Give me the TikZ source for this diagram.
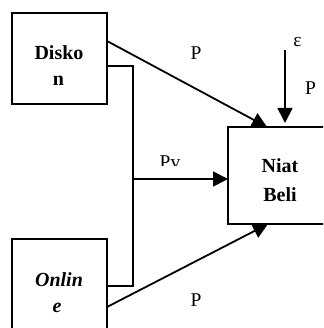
\documentclass[tikz,border=0pt]{standalone}
\usepackage{fontspec}
\setmainfont{Liberation Serif}
\usetikzlibrary{arrows.meta}
\begin{document}
\begin{tikzpicture}[x=1pt,y=-1pt,
  box/.style={draw,line width=1.8pt},
  link/.style={line width=1.8pt,-{Triangle[length=15pt,width=15pt]}},
  plain/.style={line width=1.8pt},
  lbl/.style={font=\fontsize{19.5}{22}\selectfont,inner sep=0pt,anchor=base},
  vname/.style={font=\fontsize{20}{22}\selectfont\bfseries,inner sep=0pt,anchor=base}]
\useasboundingbox (0,0) rectangle (323,328);
\clip (0,0) rectangle (323,328);
% variable boxes
\draw[box] (12,13) rectangle (107,104);
\draw[box] (12,239) rectangle (107,345);
\draw[box] (228,127) rectangle (345,224);
\node[vname] (disko1) at (59,60) {Disko};
\node[vname] (disko2) at (58.5,86) {n};
\node[vname] (online1) at (59,286) {\itshape Onlin};
\node[vname] (online2) at (57,312) {\itshape e};
\node[vname] (niat1) at (280,173) {Niat};
\node[vname] (niat2) at (280,201) {Beli};
% connection points
\coordinate (dOut) at (107,41);
\coordinate (oOut) at (107,307);
\coordinate (nTop) at (267,127);
\coordinate (nBot) at (268,224);
\coordinate (nLeft) at (228,179);
\coordinate (bTop) at (107,66);
\coordinate (bBot) at (107,286);
\coordinate (bJoin) at (133,179);
\coordinate (eStart) at (285,50);
\coordinate (eEnd) at (285,123);
% paths
\draw[link] (dOut) -- (nTop);
\draw[link] (oOut) -- (nBot);
\draw[plain] (bTop) -- (133,66) -- (133,286) -- (bBot);
\draw[link] (bJoin) -- (nLeft);
\draw[link] (eStart) -- (eEnd);
% labels
\node[lbl] (p1) at (196,60) {P};
\begin{scope}
  \clip (150,140) rectangle (200,166);
  \node[lbl] (pv) at (170,168) {Pv};
\end{scope}
\node[lbl] (p2) at (196,306) {P};
\node[lbl] (eps) at (297.5,47) {ε};
\node[lbl] (p3) at (310.5,95) {P};
\end{tikzpicture}
\end{document}
